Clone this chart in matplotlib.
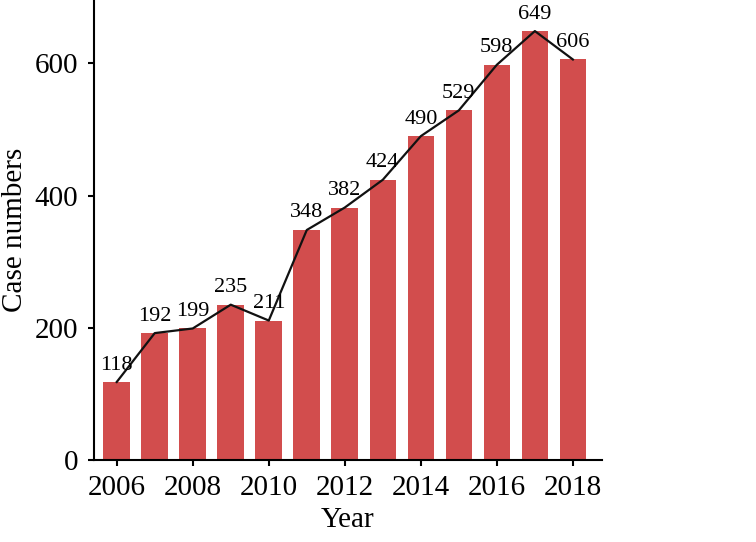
import numpy as np
import matplotlib.pyplot as plt

plt.rcParams['font.family'] = ['Liberation Serif', 'DejaVu Serif']

years = [2006, 2007, 2008, 2009, 2010, 2011, 2012, 2013, 2014, 2015, 2016, 2017, 2018]
cases = [118, 192, 199, 235, 211, 348, 382, 424, 490, 529, 598, 649, 606]
xticks = [2006, 2008, 2010, 2012, 2014, 2016, 2018]
yticks = [0, 200, 400, 600]

fig = plt.figure(figsize=(7.56, 5.42), dpi=100)
ax = fig.add_axes([0.1237, 0.1513, 0.6723, 0.8487])

ax.bar(years, cases, width=0.7, color='#d24d4d', zorder=1)
ax.plot(years, cases, color='#111111', lw=1.6, zorder=2)

for x, y in zip(years, cases):
    ax.annotate(str(y), (x, y), xytext=(0, 9), textcoords='offset points',
                ha='center', va='baseline', fontsize=16)

ax.set_xlim(2005.39, 2018.76)
ax.set_ylim(0, 696)
ax.set_xticks(xticks)
ax.set_yticks(yticks)

ax.spines['top'].set_visible(False)
ax.spines['right'].set_visible(False)
for s in ['left', 'bottom']:
    ax.spines[s].set_linewidth(1.5)

ax.tick_params(axis='both', labelsize=21, width=1.5, length=4, pad=7)
ax.set_xlabel('Year', fontsize=21, labelpad=4)
ax.set_ylabel('Case numbers', fontsize=21, labelpad=5)

fig.savefig('out.png', dpi=100)
